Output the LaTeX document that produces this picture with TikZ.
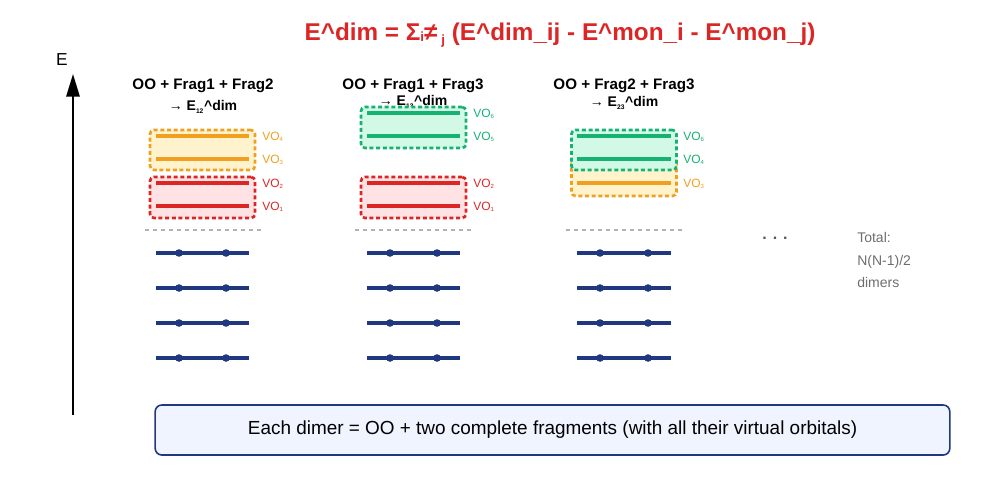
\documentclass[tikz,border=0pt]{standalone}
\usepackage{fontspec}
\setmainfont{Liberation Sans}
\usetikzlibrary{positioning,arrows.meta}
\definecolor{titlered}{RGB}{220,38,38}
\definecolor{vored}{RGB}{220,38,38}
\definecolor{vofillred}{RGB}{255,226,228}
\definecolor{voorange}{RGB}{240,160,30}
\definecolor{vofillorange}{RGB}{255,243,205}
\definecolor{vogreen}{RGB}{22,178,115}
\definecolor{vofillgreen}{RGB}{210,248,230}
\definecolor{occnavy}{RGB}{32,56,128}
\definecolor{notegray}{RGB}{110,110,110}
\definecolor{notefill}{RGB}{240,244,255}

\tikzset{
	vobox/.style={draw=#1, line width=2pt, dash pattern=on 3pt off 2pt, rounded corners=3pt, minimum width=78.75pt},
	voline/.style={draw=#1, line width=2.4pt},
	volabel/.style={anchor=west, text=#1, font=\fontsize{9}{10}\selectfont, inner sep=0pt},
	occ/.style={draw=occnavy, line width=2.6pt},
	sep/.style={draw=gray!60, dashed, line width=0.8pt},
	header/.style={font=\bfseries\fontsize{11.4}{13}\selectfont, inner sep=0pt},
	dimlabel/.style={font=\bfseries\fontsize{10.5}{12}\selectfont, inner sep=0pt}
}

\newcommand{\vosub}[1]{VO\textsubscript{\fontsize{4.5}{5}\selectfont #1}}
\newcommand{\dimsub}[1]{\textsubscript{\fontsize{5}{5}\selectfont #1}}

\begin{document}
\begin{tikzpicture}[x=0.75pt, y=-0.75pt]
	\useasboundingbox (0,0) rectangle (995,476);

	% title
	\draw (560, 35) 	node[font=\bfseries\fontsize{18.2}{21}\selectfont, text=titlered] 	(title) 	{E\textasciicircum dim = Σ\raisebox{-1pt}{\fontsize{10}{10}\selectfont i}≠\,\raisebox{-3pt}{\fontsize{10}{10}\selectfont j} (E\textasciicircum dim\_ij - E\textasciicircum mon\_i - E\textasciicircum mon\_j)};

	% energy axis
	\draw (73, 415) 	coordinate 	(axisbot);
	\draw (73, 74) 		coordinate 	(axistop);
	\draw (62, 60) 		node[font=\fontsize{13}{14}\selectfont] 	(elabel) 	{E};
	\draw[line width=1.5pt, -{Triangle[length=17pt, width=10pt]}] (axisbot) -- (axistop);

	% headers
	\draw (203, 86) 	node[header] 	(head12) 	{OO + Frag1 + Frag2};
	\draw (203, 107) 	node[dimlabel] 	(dim12) 	{→ E\dimsub{12}\textasciicircum dim};
	\draw (413, 86) 	node[header] 	(head13) 	{OO + Frag1 + Frag3};
	\draw (413, 102) 	node[dimlabel] 	(dim13) 	{→ E\dimsub{13}\textasciicircum dim};
	\draw (624, 86) 	node[header] 	(head23) 	{OO + Frag2 + Frag3};
	\draw (624, 103) 	node[dimlabel] 	(dim23) 	{→ E\dimsub{23}\textasciicircum dim};

	% dimer 12
	\draw (202.5, 150) 	node[vobox=voorange, fill=vofillorange, minimum height=30pt] 	(frag2a) 	{};
	\draw (202.5, 197.5) 	node[vobox=vored, fill=vofillred, minimum height=30.75pt] 	(frag1a) 	{};
	\draw[voline=voorange] (156, 136) -- (249, 136);
	\draw[voline=voorange] (156, 159) -- (249, 159);
	\draw[voline=vored] (156, 183) -- (249, 183);
	\draw[voline=vored] (156, 206) -- (249, 206);
	\draw (262, 137) 	node[volabel=voorange] 	(vo4a) 	{\vosub{4}};
	\draw (262, 160) 	node[volabel=voorange] 	(vo3a) 	{\vosub{3}};
	\draw (262, 184) 	node[volabel=vored] 	(vo2a) 	{\vosub{2}};
	\draw (262, 207) 	node[volabel=vored] 	(vo1a) 	{\vosub{1}};

	% dimer 13
	\draw (413.5, 127.5) 	node[vobox=vogreen, fill=vofillgreen, minimum height=30.75pt] 	(frag3b) 	{};
	\draw (413.5, 197.5) 	node[vobox=vored, fill=vofillred, minimum height=30.75pt] 	(frag1b) 	{};
	\draw[voline=vogreen] (367, 113) -- (460, 113);
	\draw[voline=vogreen] (367, 136) -- (460, 136);
	\draw[voline=vored] (367, 183) -- (460, 183);
	\draw[voline=vored] (367, 206) -- (460, 206);
	\draw (473, 114) 	node[volabel=vogreen] 	(vo6b) 	{\vosub{6}};
	\draw (473, 137) 	node[volabel=vogreen] 	(vo5b) 	{\vosub{5}};
	\draw (473, 184) 	node[volabel=vored] 	(vo2b) 	{\vosub{2}};
	\draw (473, 207) 	node[volabel=vored] 	(vo1b) 	{\vosub{1}};

	% dimer 23
	\draw (624, 178) 	node[vobox=voorange, fill=vofillorange, minimum height=27pt] 	(frag2c) 	{};
	\draw (624, 150) 	node[vobox=vogreen, fill=vofillgreen, minimum height=30pt] 	(frag3c) 	{};
	\draw[voline=vogreen] (577, 136) -- (671, 136);
	\draw[voline=vogreen] (577, 159) -- (671, 159);
	\draw[voline=voorange] (577, 183) -- (671, 183);
	\draw (683, 137) 	node[volabel=vogreen] 	(vo6c) 	{\vosub{6}};
	\draw (683, 160) 	node[volabel=vogreen] 	(vo4c) 	{\vosub{4}};
	\draw (683, 184) 	node[volabel=voorange] 	(vo3c) 	{\vosub{3}};

	% occupied separators
	\draw[sep] (145, 230) -- (262, 230);
	\draw[sep] (355, 230) -- (472, 230);
	\draw[sep] (566, 230) -- (683, 230);

	% occupied orbitals
	\draw[occ] (156, 253) -- (249, 253);
	\draw[occ] (156, 288) -- (249, 288);
	\draw[occ] (156, 323) -- (249, 323);
	\draw[occ] (156, 358) -- (249, 358);
	\draw[occ] (367, 253) -- (460, 253);
	\draw[occ] (367, 288) -- (460, 288);
	\draw[occ] (367, 323) -- (460, 323);
	\draw[occ] (367, 358) -- (460, 358);
	\draw[occ] (577, 253) -- (671, 253);
	\draw[occ] (577, 288) -- (671, 288);
	\draw[occ] (577, 323) -- (671, 323);
	\draw[occ] (577, 358) -- (671, 358);
	\fill[occnavy] (179, 253) circle (3.8) (226, 253) circle (3.8) (179, 288) circle (3.8) (226, 288) circle (3.8);
	\fill[occnavy] (179, 323) circle (3.8) (226, 323) circle (3.8) (179, 358) circle (3.8) (226, 358) circle (3.8);
	\fill[occnavy] (390, 253) circle (3.8) (437, 253) circle (3.8) (390, 288) circle (3.8) (437, 288) circle (3.8);
	\fill[occnavy] (390, 323) circle (3.8) (437, 323) circle (3.8) (390, 358) circle (3.8) (437, 358) circle (3.8);
	\fill[occnavy] (600, 253) circle (3.8) (648, 253) circle (3.8) (600, 288) circle (3.8) (648, 288) circle (3.8);
	\fill[occnavy] (600, 323) circle (3.8) (648, 323) circle (3.8) (600, 358) circle (3.8) (648, 358) circle (3.8);

	% more dimers
	\draw (775, 238) 	node[font=\bfseries\fontsize{12}{12}\selectfont, text=notegray!80!black] 	(dots) 	{. . .};
	\draw (857, 232) 	node[anchor=north west, align=left, inner sep=0pt, text=notegray, font=\fontsize{10.5}{17}\selectfont] 	(total) 	{Total:\\N(N-1)/2\\dimers};

	% note
	\draw (552.5, 430) 	node[draw=occnavy, line width=1.2pt, fill=notefill, rounded corners=5pt, minimum width=596pt, minimum height=37.5pt, font=\fontsize{14.2}{16}\selectfont] 	(note) 	{Each dimer = OO + two complete fragments (with all their virtual orbitals)};
\end{tikzpicture}
\end{document}
